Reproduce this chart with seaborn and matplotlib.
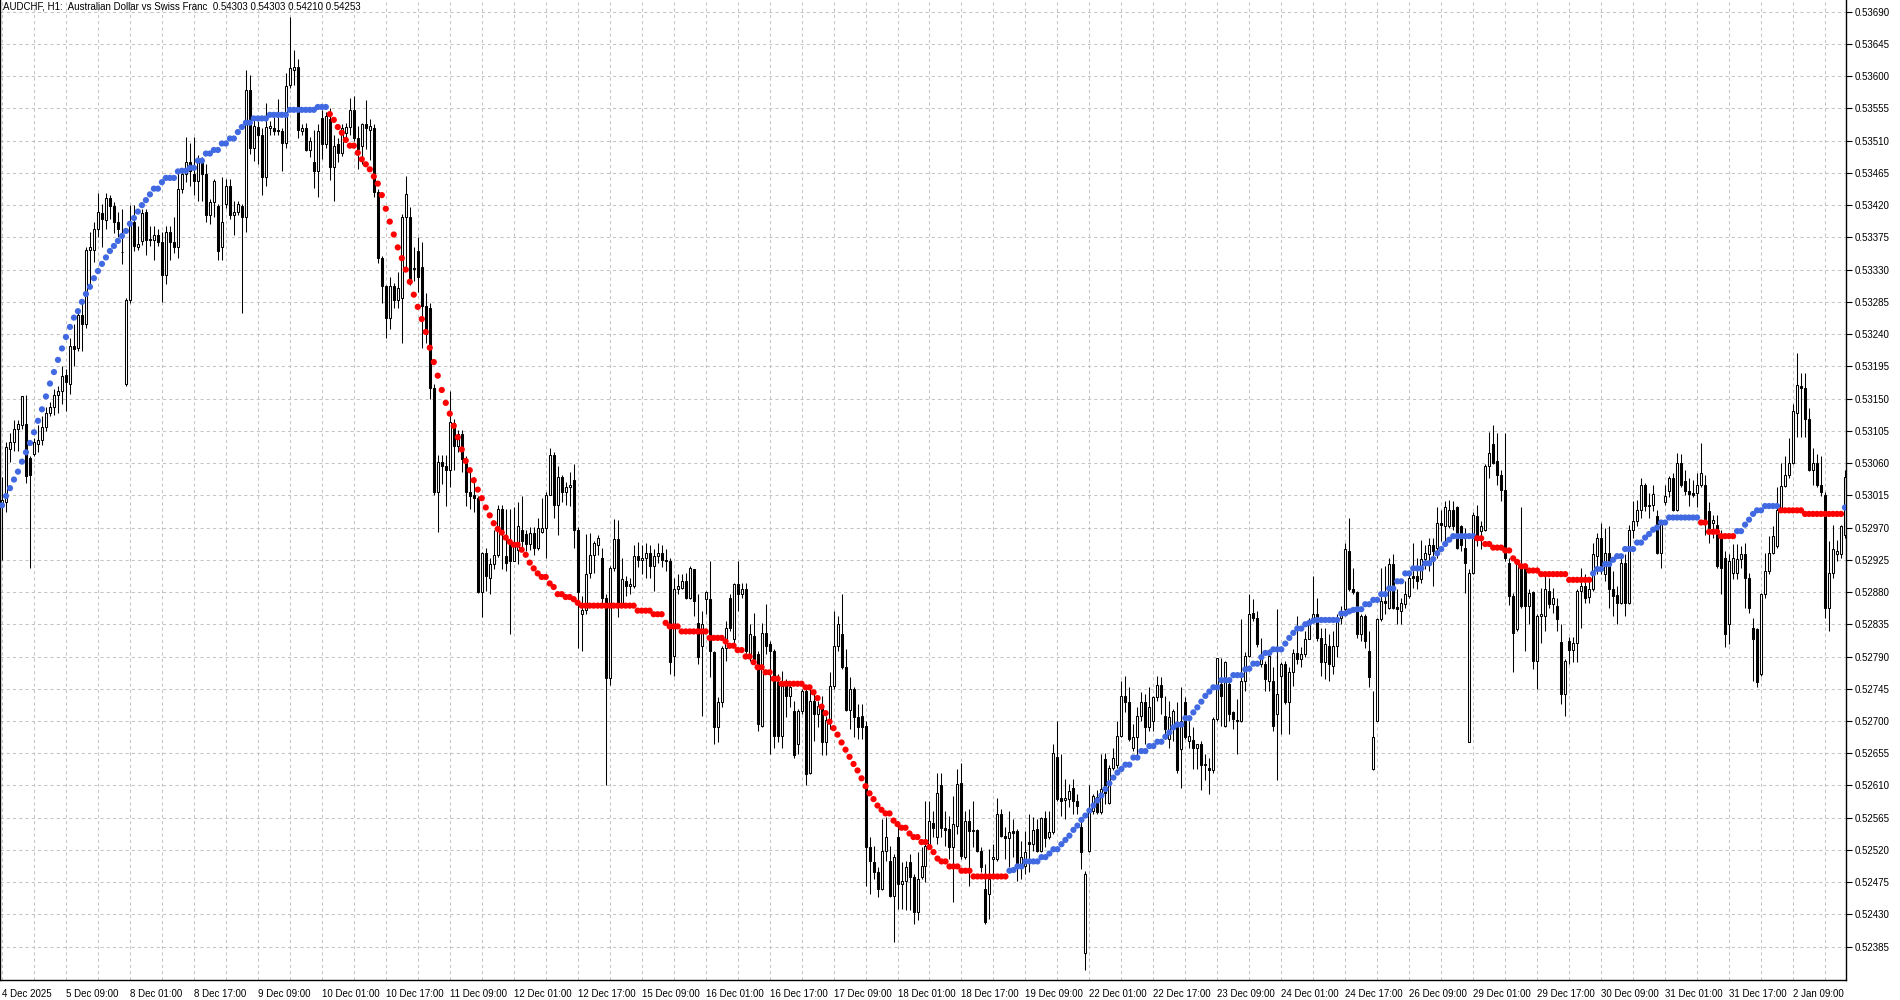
import numpy as np
import pandas as pd
import matplotlib
matplotlib.use("Agg")
import matplotlib.pyplot as plt
import seaborn as sns

# prices are stored in points (0.00001) above 0.52000
BASE = 0.52
PT = 0.00001

# hourly candles, one entry per bar
opens = [
    1000, 1006, 1080, 1090, 1108, 1113, 1115, 1067, 1072, 1087,
    1092, 1110, 1130, 1138, 1155, 1161, 1183, 1171, 1224, 1221,
    1267, 1254, 1358, 1358, 1386, 1409, 1399, 1430, 1419, 1396,
    1355, 1171, 1287, 1396, 1361, 1370, 1410, 1373, 1371, 1378,
    1368, 1323, 1382, 1368, 1362, 1442, 1464, 1480, 1464, 1454,
    1480, 1464, 1406, 1424, 1419, 1361, 1421, 1447, 1406, 1411,
    1419, 1404, 1581, 1500, 1529, 1518, 1459, 1527, 1528, 1525,
    1524, 1507, 1588, 1609, 1613, 1523, 1527, 1497, 1480, 1467,
    1542, 1505, 1540, 1473, 1505, 1493, 1520, 1529, 1553, 1513,
    1503, 1533, 1525, 1528, 1438, 1346, 1307, 1262, 1307, 1287,
    1290, 1403, 1403, 1331, 1356, 1334, 1279, 1276, 1165, 1019,
    1061, 1056, 1051, 1116, 1084, 1101, 1066, 1019, 1016, 1011,
    880, 934, 900, 919, 932, 996, 930, 947, 924, 939,
    966, 961, 947, 962, 942, 964, 969, 1016, 1071, 1001,
    1041, 1019, 1026, 1036, 966, 850, 855, 907, 932, 946,
    927, 872, 760, 914, 954, 865, 896, 888, 889, 930,
    925, 928, 935, 916, 930, 935, 925, 923, 791, 884,
    886, 895, 872, 912, 837, 805, 870, 870, 796, 691,
    726, 802, 872, 814, 891, 877, 884, 791, 819, 793,
    693, 823, 807, 798, 754, 679, 756, 735, 714, 668,
    714, 742, 628, 728, 710, 721, 670, 700, 749, 805,
    821, 776, 716, 745, 705, 707, 693, 524, 503, 489,
    466, 519, 505, 456, 538, 473, 477, 503, 482, 433,
    482, 498, 528, 557, 538, 610, 551, 549, 524, 554,
    614, 510, 561, 546, 548, 518, 466, 459, 507, 507,
    570, 540, 537, 547, 547, 501, 498, 531, 528, 549,
    519, 565, 538, 545, 650, 592, 590, 591, 607, 589,
    552, 376, 519, 575, 594, 573, 647, 586, 635, 638,
    679, 735, 726, 663, 677, 707, 726, 691, 700, 733,
    750, 707, 675, 689, 691, 661, 726, 672, 673, 663,
    668, 638, 635, 631, 703, 751, 693, 751, 712, 702,
    700, 756, 791, 851, 844, 779, 779, 756, 756, 710,
    763, 779, 726, 768, 795, 786, 793, 815, 844, 850,
    816, 782, 805, 777, 805, 844, 856, 937, 884, 880,
    821, 847, 798, 633, 700, 842, 868, 858, 919, 859,
    854, 863, 875, 902, 902, 898, 926, 933, 946, 942,
    977, 972, 972, 995, 998, 972, 942, 670, 907, 986,
    965, 967, 1056, 1086, 1063, 1044, 1023, 921, 874, 828,
    919, 914, 861, 880, 784, 846, 847, 881, 863, 861,
    810, 738, 812, 799, 809, 882, 889, 873, 884, 930,
    956, 905, 935, 884, 876, 865, 921, 865, 967, 979,
    995, 1030, 1000, 1002, 986, 935, 1005, 1021, 1039, 995,
    1060, 1035, 1021, 1018, 1018, 1029, 1030, 993, 977, 974,
    960, 928, 835, 907, 907, 926, 933, 900, 830, 828,
    765, 877, 909, 935, 944, 995, 1028, 1044, 1060, 1130,
    1167, 1165, 1121, 1051, 1060, 1030, 1016, 858, 907, 933,
    933, 960,
]

highs = [
    1040, 1090, 1102, 1120, 1120, 1154, 1155, 1070, 1095, 1113,
    1125, 1138, 1145, 1163, 1168, 1196, 1191, 1234, 1254, 1275,
    1287, 1361, 1383, 1396, 1437, 1421, 1437, 1434, 1424, 1411,
    1414, 1290, 1420, 1420, 1391, 1414, 1414, 1391, 1391, 1386,
    1383, 1391, 1391, 1404, 1467, 1467, 1515, 1507, 1515, 1490,
    1487, 1477, 1429, 1457, 1421, 1459, 1457, 1457, 1426, 1426,
    1421, 1609, 1601, 1540, 1538, 1528, 1563, 1538, 1543, 1568,
    1528, 1604, 1682, 1636, 1624, 1533, 1535, 1515, 1525, 1533,
    1553, 1550, 1555, 1518, 1513, 1533, 1535, 1570, 1572, 1530,
    1535, 1567, 1540, 1533, 1443, 1349, 1309, 1319, 1312, 1327,
    1408, 1461, 1418, 1361, 1376, 1369, 1297, 1284, 1170, 1071,
    1071, 1071, 1160, 1121, 1106, 1106, 1070, 1055, 1041, 1014,
    936, 942, 927, 966, 1001, 1001, 996, 996, 998, 1006,
    1014, 966, 971, 971, 984, 1011, 1019, 1081, 1076, 1056,
    1044, 1033, 1048, 1059, 971, 875, 961, 962, 951, 959,
    942, 877, 917, 982, 981, 927, 902, 900, 945, 950,
    945, 948, 945, 940, 948, 945, 940, 928, 900, 905,
    905, 907, 916, 912, 877, 854, 881, 923, 798, 733,
    805, 840, 877, 893, 923, 893, 893, 835, 851, 798,
    837, 863, 812, 800, 765, 770, 758, 751, 728, 717,
    745, 747, 747, 742, 728, 735, 707, 768, 854, 847,
    877, 800, 761, 747, 724, 724, 700, 538, 526, 496,
    563, 566, 526, 515, 561, 503, 505, 515, 487, 517,
    524, 589, 589, 575, 628, 628, 575, 568, 596, 633,
    642, 575, 577, 589, 549, 524, 501, 521, 528, 593,
    577, 552, 575, 563, 549, 533, 547, 570, 566, 563,
    566, 575, 575, 668, 700, 654, 619, 612, 619, 598,
    561, 491, 610, 598, 603, 654, 656, 638, 663, 700,
    756, 763, 747, 696, 719, 740, 737, 747, 735, 763,
    761, 735, 728, 717, 726, 747, 733, 700, 691, 668,
    672, 654, 649, 705, 788, 788, 784, 754, 714, 730,
    842, 796, 877, 870, 854, 816, 784, 800, 775, 856,
    782, 784, 775, 800, 847, 803, 826, 844, 902, 872,
    830, 830, 821, 826, 849, 860, 949, 984, 914, 881,
    849, 849, 826, 742, 844, 914, 916, 928, 933, 884,
    872, 895, 909, 949, 928, 952, 946, 956, 956, 998,
    995, 1007, 1009, 1007, 1000, 974, 970, 912, 991, 1002,
    979, 1058, 1104, 1113, 1102, 1051, 1102, 928, 879, 926,
    998, 919, 884, 882, 849, 886, 905, 900, 886, 872,
    835, 786, 817, 817, 884, 914, 905, 895, 949, 963,
    977, 970, 972, 909, 888, 928, 933, 974, 1007, 1009,
    1039, 1032, 1018, 1030, 995, 979, 1030, 1042, 1046, 1074,
    1072, 1051, 1039, 1037, 1046, 1088, 1044, 1005, 988, 988,
    967, 937, 933, 947, 947, 944, 949, 907, 844, 830,
    879, 935, 958, 972, 1026, 1060, 1070, 1095, 1142, 1214,
    1186, 1186, 1137, 1081, 1072, 1070, 1019, 951, 974, 953,
    974, 1050,
]

lows = [
    925, 991, 1062, 1077, 1077, 1108, 1032, 913, 1070, 1075,
    1085, 1105, 1125, 1127, 1130, 1143, 1133, 1156, 1196, 1216,
    1216, 1249, 1310, 1340, 1376, 1361, 1386, 1401, 1381, 1376,
    1338, 1168, 1284, 1356, 1358, 1365, 1350, 1363, 1343, 1363,
    1285, 1310, 1343, 1353, 1346, 1437, 1452, 1447, 1434, 1426,
    1426, 1396, 1394, 1403, 1343, 1343, 1416, 1401, 1378, 1406,
    1270, 1383, 1492, 1482, 1477, 1434, 1447, 1518, 1518, 1518,
    1467, 1500, 1583, 1588, 1513, 1518, 1495, 1487, 1444, 1431,
    1485, 1500, 1455, 1426, 1480, 1488, 1515, 1518, 1510, 1471,
    1478, 1498, 1483, 1431, 1339, 1284, 1235, 1247, 1277, 1277,
    1227, 1329, 1309, 1314, 1299, 1220, 1227, 1150, 1016, 964,
    1031, 1000, 1026, 1051, 1075, 1048, 1000, 996, 991, 878,
    845, 882, 877, 912, 929, 912, 909, 822, 924, 919,
    937, 937, 939, 932, 939, 962, 927, 1016, 984, 959,
    1006, 1002, 1000, 941, 802, 797, 850, 900, 907, 932,
    862, 610, 750, 909, 845, 860, 875, 877, 885, 915,
    905, 900, 900, 881, 920, 915, 910, 765, 763, 877,
    884, 870, 870, 847, 779, 707, 849, 761, 668, 670,
    719, 784, 826, 805, 854, 872, 793, 784, 779, 686,
    691, 793, 654, 663, 670, 663, 705, 719, 649, 654,
    710, 610, 626, 672, 691, 652, 652, 689, 744, 798,
    772, 714, 689, 677, 675, 675, 470, 459, 480, 454,
    464, 505, 454, 391, 438, 438, 436, 436, 417, 422,
    480, 475, 528, 538, 528, 538, 526, 508, 447, 542,
    508, 508, 470, 524, 517, 489, 417, 424, 484, 505,
    538, 508, 496, 510, 477, 480, 487, 489, 519, 517,
    517, 524, 535, 542, 589, 568, 563, 580, 570, 570,
    494, 352, 517, 570, 570, 570, 584, 584, 631, 635,
    677, 712, 672, 658, 652, 700, 668, 686, 686, 728,
    710, 675, 663, 672, 628, 607, 675, 663, 633, 633,
    603, 617, 598, 628, 700, 693, 691, 700, 689, 654,
    698, 742, 789, 840, 803, 775, 742, 742, 686, 617,
    682, 724, 682, 749, 779, 775, 789, 814, 837, 812,
    763, 758, 756, 765, 789, 835, 849, 882, 877, 816,
    812, 802, 747, 631, 700, 840, 849, 856, 856, 835,
    835, 858, 872, 886, 884, 893, 912, 909, 888, 928,
    951, 949, 970, 967, 940, 937, 879, 670, 905, 944,
    940, 965, 1039, 1058, 1030, 1007, 923, 862, 768, 826,
    858, 798, 835, 772, 744, 809, 826, 858, 851, 826,
    724, 707, 779, 782, 782, 830, 865, 865, 882, 905,
    905, 896, 858, 847, 835, 863, 847, 863, 956, 972,
    984, 993, 984, 993, 933, 914, 1002, 1012, 993, 993,
    1026, 1016, 1000, 1012, 998, 1026, 960, 949, 956, 914,
    877, 803, 807, 898, 898, 914, 858, 851, 756, 747,
    763, 872, 905, 933, 942, 993, 1026, 1039, 1058, 1097,
    1097, 1097, 1049, 1030, 1026, 1014, 844, 826, 900, 923,
    928, 955,
]

closes = [
    1008, 1082, 1090, 1108, 1114, 1153, 1042, 1044, 1090, 1092,
    1110, 1130, 1138, 1155, 1161, 1181, 1173, 1224, 1219, 1267,
    1254, 1358, 1361, 1386, 1411, 1401, 1430, 1419, 1397, 1386,
    1354, 1287, 1396, 1363, 1366, 1409, 1371, 1372, 1378, 1368,
    1323, 1383, 1368, 1362, 1442, 1464, 1480, 1467, 1454, 1480,
    1464, 1406, 1424, 1454, 1356, 1396, 1447, 1406, 1411, 1421,
    1404, 1581, 1500, 1530, 1518, 1459, 1529, 1530, 1524, 1524,
    1507, 1586, 1611, 1613, 1525, 1527, 1497, 1510, 1467, 1523,
    1505, 1545, 1473, 1503, 1493, 1528, 1529, 1553, 1513, 1498,
    1533, 1528, 1530, 1438, 1346, 1307, 1262, 1307, 1287, 1304,
    1403, 1436, 1314, 1332, 1319, 1279, 1240, 1165, 1019, 1061,
    1056, 1051, 1118, 1084, 1101, 1066, 1019, 1014, 1011, 880,
    934, 902, 919, 932, 996, 961, 921, 924, 947, 972,
    951, 947, 962, 942, 969, 969, 1016, 1071, 1001, 1041,
    1019, 1026, 1030, 966, 880, 855, 905, 932, 949, 956,
    872, 760, 914, 954, 865, 898, 888, 891, 930, 925,
    928, 935, 916, 930, 935, 925, 923, 782, 884, 888,
    895, 872, 914, 868, 789, 835, 880, 798, 691, 726,
    802, 830, 830, 891, 877, 884, 798, 821, 786, 696,
    823, 805, 798, 679, 679, 749, 735, 747, 652, 714,
    742, 626, 728, 710, 721, 670, 702, 749, 805, 835,
    776, 716, 745, 705, 691, 691, 524, 505, 489, 466,
    519, 538, 456, 510, 473, 477, 496, 482, 433, 480,
    498, 526, 561, 551, 600, 551, 548, 524, 556, 612,
    512, 561, 547, 548, 518, 496, 419, 480, 510, 570,
    540, 537, 545, 544, 501, 510, 517, 528, 548, 518,
    565, 537, 545, 656, 591, 589, 592, 602, 589, 582,
    517, 487, 575, 596, 573, 605, 600, 635, 649, 679,
    735, 726, 675, 677, 707, 726, 691, 719, 733, 750,
    733, 689, 705, 714, 631, 700, 677, 679, 663, 668,
    638, 640, 631, 703, 788, 735, 782, 710, 703, 700,
    756, 791, 849, 844, 807, 790, 758, 791, 693, 737,
    779, 726, 768, 795, 786, 793, 815, 840, 849, 816,
    782, 807, 779, 805, 840, 853, 940, 884, 880, 821,
    847, 812, 761, 677, 842, 868, 864, 919, 858, 856,
    865, 877, 900, 900, 895, 926, 935, 946, 937, 977,
    974, 998, 995, 972, 942, 946, 921, 907, 988, 956,
    972, 1056, 1074, 1060, 1044, 1023, 928, 874, 823, 919,
    861, 861, 879, 784, 847, 849, 884, 863, 872, 842,
    738, 784, 799, 809, 882, 889, 872, 884, 933, 956,
    916, 935, 884, 875, 865, 921, 865, 967, 979, 995,
    1030, 1000, 1002, 1017, 935, 977, 1014, 1039, 995, 1060,
    1030, 1021, 1017, 1016, 1029, 1046, 979, 970, 980, 916,
    914, 821, 923, 928, 926, 933, 900, 858, 814, 754,
    877, 909, 935, 958, 995, 1028, 1044, 1060, 1132, 1169,
    1165, 1121, 1051, 1060, 1030, 1019, 858, 907, 940, 937,
    972, 1040,
]

# trend indicator dots, one per bar
trend_line = [
    1001, 1014, 1025, 1037, 1048, 1062, 1075, 1088, 1103, 1119,
    1135, 1153, 1171, 1187, 1204, 1220, 1236, 1250, 1263, 1272,
    1285, 1296, 1306, 1318, 1328, 1338, 1347, 1356, 1363, 1370,
    1377, 1384, 1394, 1402, 1411, 1420, 1427, 1435, 1443, 1443,
    1452, 1458, 1458, 1458, 1467, 1468, 1468, 1472, 1472, 1482,
    1482, 1492, 1492, 1497, 1497, 1506, 1506, 1513, 1513, 1522,
    1529, 1535, 1535, 1541, 1541, 1541, 1541, 1546, 1546, 1546,
    1546, 1546, 1553, 1553, 1553, 1553, 1553, 1553, 1553, 1557,
    1557, 1557, 1547, 1539, 1529, 1521, 1511, 1503, 1503, 1493,
    1484, 1477, 1470, 1460, 1450, 1434, 1415, 1397, 1379, 1361,
    1346, 1330, 1313, 1295, 1278, 1261, 1243, 1221, 1201, 1182,
    1162, 1144, 1129, 1112, 1096, 1079, 1063, 1050, 1036, 1023,
    1011, 998, 987, 976, 968, 963, 956, 950, 946, 946,
    939, 932, 921, 913, 906, 901, 901, 892, 887, 877,
    877, 873, 873, 870, 865, 861, 861, 861, 861, 861,
    861, 861, 861, 861, 861, 861, 861, 861, 861, 854,
    854, 854, 854, 849, 849, 849, 837, 832, 832, 832,
    825, 825, 825, 825, 825, 825, 825, 816, 816, 816,
    816, 811, 805, 805, 799, 799, 790, 790, 782, 775,
    775, 768, 768, 759, 759, 752, 752, 752, 752, 752,
    752, 747, 747, 740, 732, 720, 711, 699, 690, 681,
    670, 660, 650, 640, 631, 620, 609, 599, 591, 582,
    576, 571, 571, 561, 556, 551, 551, 543, 538, 538,
    531, 531, 524, 517, 508, 504, 504, 497, 497, 497,
    491, 491, 491, 483, 483, 483, 483, 483, 483, 483,
    483, 483, 491, 492, 497, 497, 504, 504, 504, 504,
    510, 510, 515, 521, 521, 528, 534, 540, 548, 554,
    562, 568, 575, 582, 589, 596, 605, 613, 621, 628,
    633, 639, 639, 649, 649, 658, 658, 665, 665, 671,
    671, 678, 684, 691, 695, 695, 704, 704, 712, 719,
    727, 735, 741, 747, 747, 757, 757, 757, 764, 764,
    764, 772, 773, 780, 780, 789, 795, 795, 800, 800,
    800, 808, 816, 823, 829, 829, 835, 837, 840, 841,
    841, 841, 841, 841, 841, 850, 850, 853, 855, 856,
    856, 863, 863, 869, 869, 877, 877, 885, 885, 895,
    895, 906, 906, 913, 913, 913, 920, 920, 926, 934,
    940, 947, 953, 958, 958, 958, 958, 958, 958, 955,
    955, 947, 947, 942, 942, 942, 938, 938, 927, 922,
    916, 916, 910, 910, 910, 905, 905, 905, 905, 905,
    905, 905, 897, 897, 897, 897, 897, 897, 906, 912,
    912, 919, 919, 925, 930, 930, 940, 940, 940, 949,
    949, 956, 961, 967, 970, 977, 977, 984, 984, 984,
    984, 984, 984, 984, 984, 977, 977, 964, 964, 964,
    958, 958, 958, 958, 965, 965, 974, 981, 989, 994,
    994, 1000, 1000, 1000, 1000, 994, 994, 994, 994, 994,
    994, 989, 989, 989, 989, 989, 989, 989, 989, 989,
    989, 998,
]
# bars where the indicator changes colour (starts blue)
trend_flips = [82, 252, 369, 398, 425, 434, 445, 461]

x_labels = ["4 Dec 2025", "5 Dec 09:00", "8 Dec 01:00", "8 Dec 17:00", "9 Dec 09:00",
            "10 Dec 01:00", "10 Dec 17:00", "11 Dec 09:00", "12 Dec 01:00", "12 Dec 17:00",
            "15 Dec 09:00", "16 Dec 01:00", "16 Dec 17:00", "17 Dec 09:00", "18 Dec 01:00",
            "18 Dec 17:00", "19 Dec 09:00", "22 Dec 01:00", "22 Dec 17:00", "23 Dec 09:00",
            "24 Dec 01:00", "24 Dec 17:00", "26 Dec 09:00", "29 Dec 01:00", "29 Dec 17:00",
            "30 Dec 09:00", "31 Dec 01:00", "31 Dec 17:00", "2 Jan 09:00"]
y_labels = ["0.52385", "0.52430", "0.52475", "0.52520", "0.52565", "0.52610",
            "0.52655", "0.52700", "0.52745", "0.52790", "0.52835", "0.52880",
            "0.52925", "0.52970", "0.53015", "0.53060", "0.53105", "0.53150",
            "0.53195", "0.53240", "0.53285", "0.53330", "0.53375", "0.53420",
            "0.53465", "0.53510", "0.53555", "0.53600", "0.53645", "0.53690"]
header = "AUDCHF, H1:  Australian Dollar vs Swiss Franc  0.54303 0.54303 0.54210 0.54253"


def to_price(vals):
    return BASE + np.array(vals, dtype=float) * PT


sns.set_style("white")
plt.rcParams["font.family"] = ["Liberation Sans", "DejaVu Sans"]

bars = pd.DataFrame({"open": to_price(opens), "high": to_price(highs),
                     "low": to_price(lows), "close": to_price(closes)})
bars["bar"] = np.arange(len(bars))
bull = bars[bars["close"] >= bars["open"]]
bear = bars[bars["close"] < bars["open"]]

side = []
up = True
for i in range(len(trend_line)):
    if i in trend_flips:
        up = not up
    side.append("up" if up else "down")
dots = pd.DataFrame({"bar": np.arange(len(trend_line)),
                     "level": to_price(trend_line), "side": side})

fig = plt.figure(figsize=(19, 10), dpi=100)
ax = fig.add_axes([0, 0.02, 1846 / 1900, 0.98])

# wicks then bodies
wick_lo = bars[["low", "open", "close"]].min(axis=1)
wick_hi = bars[["high", "open", "close"]].max(axis=1)
ax.vlines(bars["bar"], wick_lo, wick_hi, color="black", linewidth=0.75, zorder=2)
ax.bar(bull["bar"], bull["close"] - bull["open"], bottom=bull["open"], width=0.5,
       facecolor="white", edgecolor="black", linewidth=0.75, zorder=2.1)
ax.bar(bear["bar"], bear["open"] - bear["close"], bottom=bear["close"], width=0.5,
       facecolor="black", edgecolor="black", linewidth=0.75, zorder=2.1)

sns.scatterplot(data=dots, x="bar", y="level", hue="side",
                palette={"up": "#4169e1", "down": "#ff0000"},
                s=20, linewidth=0, legend=False, ax=ax, zorder=3)
ax.set_xlabel("")
ax.set_ylabel("")

ax.set_xlim(-0.5, 461.25)
ax.set_ylim(0.523385, 0.537063)

ax.set_yticks([float(v) for v in y_labels])
ax.set_yticklabels(y_labels)
ax.yaxis.tick_right()
ax.set_xticks(np.arange(len(x_labels)) * 16)
ax.set_xticklabels(x_labels, ha="left")
ax.set_xticks(np.arange(8, len(bars), 16), minor=True)

ax.grid(True, which="both", color="#c4c4c4", linestyle=(0, (3, 3)), linewidth=0.75)
ax.set_axisbelow(True)

ax.tick_params(axis="x", which="major", length=5, width=0.8, pad=1.5, labelsize=7, colors="black")
ax.tick_params(axis="x", which="minor", length=3, width=0.8)
ax.tick_params(axis="y", length=4, width=0.8, pad=2, labelsize=7, colors="black")

ax.spines["top"].set_visible(False)
for s in ["left", "right", "bottom"]:
    ax.spines[s].set_color("black")
    ax.spines[s].set_linewidth(1.0)

ax.text(0.0015, 0.998, header, transform=ax.transAxes, fontsize=7,
        va="top", ha="left", color="black")

fig.savefig("out.png", dpi=100)
